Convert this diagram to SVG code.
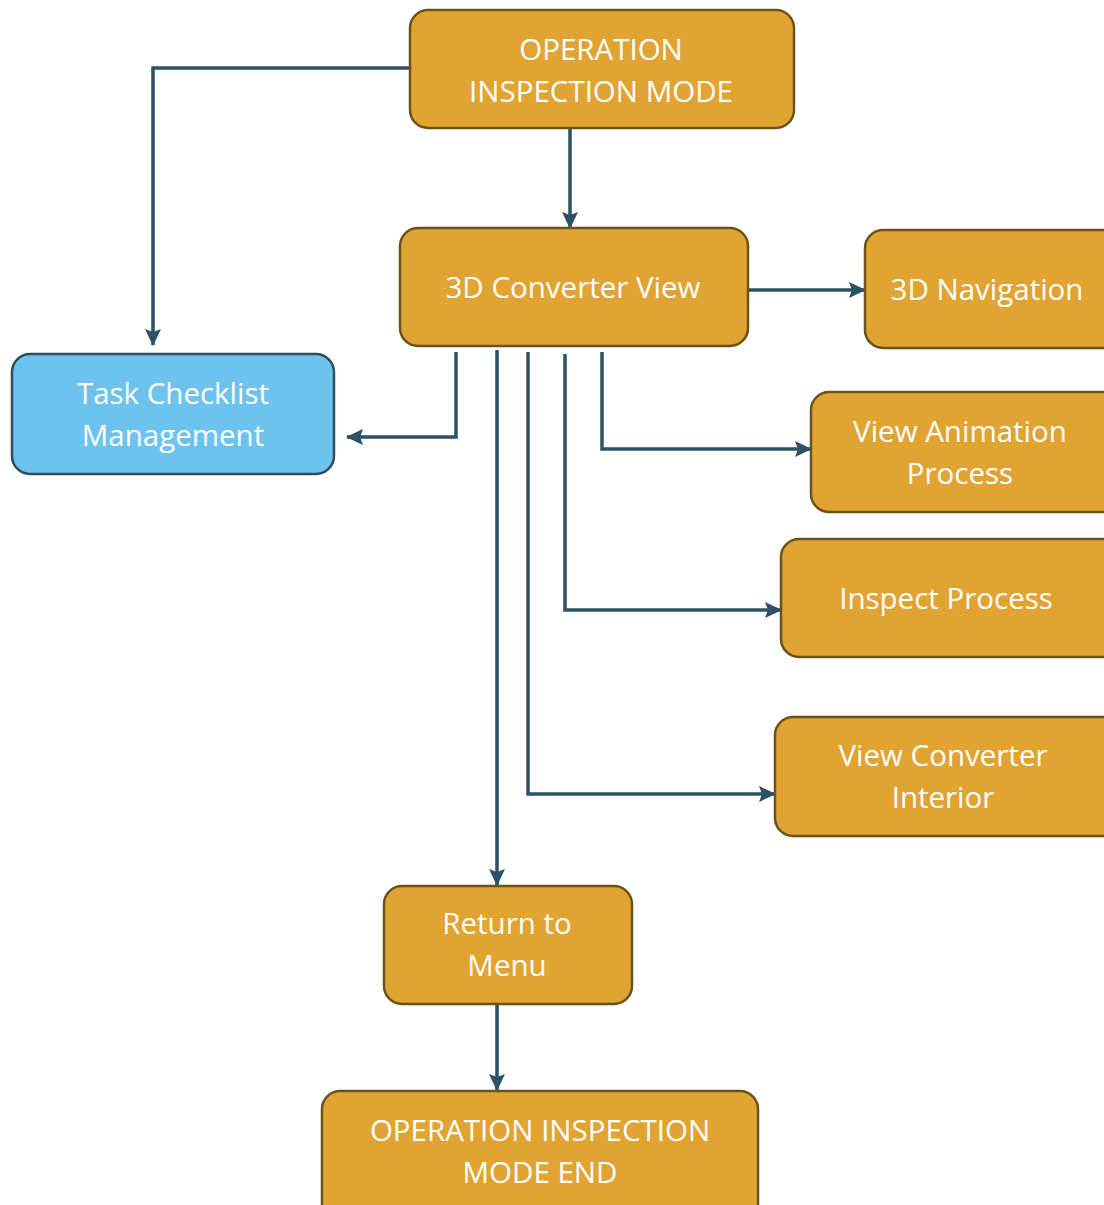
<svg xmlns="http://www.w3.org/2000/svg" width="1104" height="1205" viewBox="0 0 1104 1205">
<style>
.o{fill:#E1A332;stroke:#6B5419;stroke-width:2.5}
.b{fill:#6EC3EE;stroke:#2E4E5E;stroke-width:2.5}
text{font-family:"Open Sans","Noto Sans",sans-serif;font-size:29.5px;fill:#FFFFFF;text-anchor:middle}
.c{fill:none;stroke:#2D5266;stroke-width:3.5}
</style>
<defs>
<marker id="a" markerUnits="userSpaceOnUse" markerWidth="18" markerHeight="16" refX="16" refY="8" orient="auto">
<path d="M0,0 L17,8 L0,16 L3,8 Z" fill="#2D5266"/>
</marker>
</defs>
<rect width="1104" height="1205" fill="#FFFFFF"/>
<g id="connectors">
<path class="c" d="M410,68 H153 V345" marker-end="url(#a)"/>
<path class="c" d="M570,128 V228" marker-end="url(#a)"/>
<path class="c" d="M748,290 H865" marker-end="url(#a)"/>
<path class="c" d="M456,352 V437 H347" marker-end="url(#a)"/>
<path class="c" d="M497,350 V885" marker-end="url(#a)"/>
<path class="c" d="M528,352 V794 H775" marker-end="url(#a)"/>
<path class="c" d="M565,354 V610 H781" marker-end="url(#a)"/>
<path class="c" d="M602,352 V449 H811" marker-end="url(#a)"/>
<path class="c" d="M497,1004 V1090" marker-end="url(#a)"/>
</g>
<g id="start"><rect class="o" x="410" y="10" width="384" height="118" rx="18"/><text x="601" y="60">OPERATION</text><text x="601" y="102">INSPECTION MODE</text></g>
<g id="converter"><rect class="o" x="400" y="228" width="348" height="118" rx="18"/><text x="573" y="298">3D Converter View</text></g>
<g id="navigation"><rect class="o" x="865" y="230" width="260" height="118" rx="18"/><text x="987" y="300">3D Navigation</text></g>
<g id="checklist"><rect class="b" x="12" y="354" width="322" height="120" rx="18"/><text x="173" y="404">Task Checklist</text><text x="173" y="446">Management</text></g>
<g id="animation"><rect class="o" x="811" y="392" width="314" height="120" rx="18"/><text x="960" y="442">View Animation</text><text x="960" y="484">Process</text></g>
<g id="inspect"><rect class="o" x="781" y="539" width="344" height="118" rx="18"/><text x="946" y="609">Inspect Process</text></g>
<g id="interior"><rect class="o" x="775" y="717" width="350" height="119" rx="18"/><text x="943" y="766">View Converter</text><text x="943" y="808">Interior</text></g>
<g id="return"><rect class="o" x="384" y="886" width="248" height="118" rx="18"/><text x="507" y="934">Return to</text><text x="507" y="976">Menu</text></g>
<g id="end"><rect class="o" x="322" y="1091" width="436" height="140" rx="18"/><text x="540" y="1141">OPERATION INSPECTION</text><text x="540" y="1183">MODE END</text></g>
</svg>
